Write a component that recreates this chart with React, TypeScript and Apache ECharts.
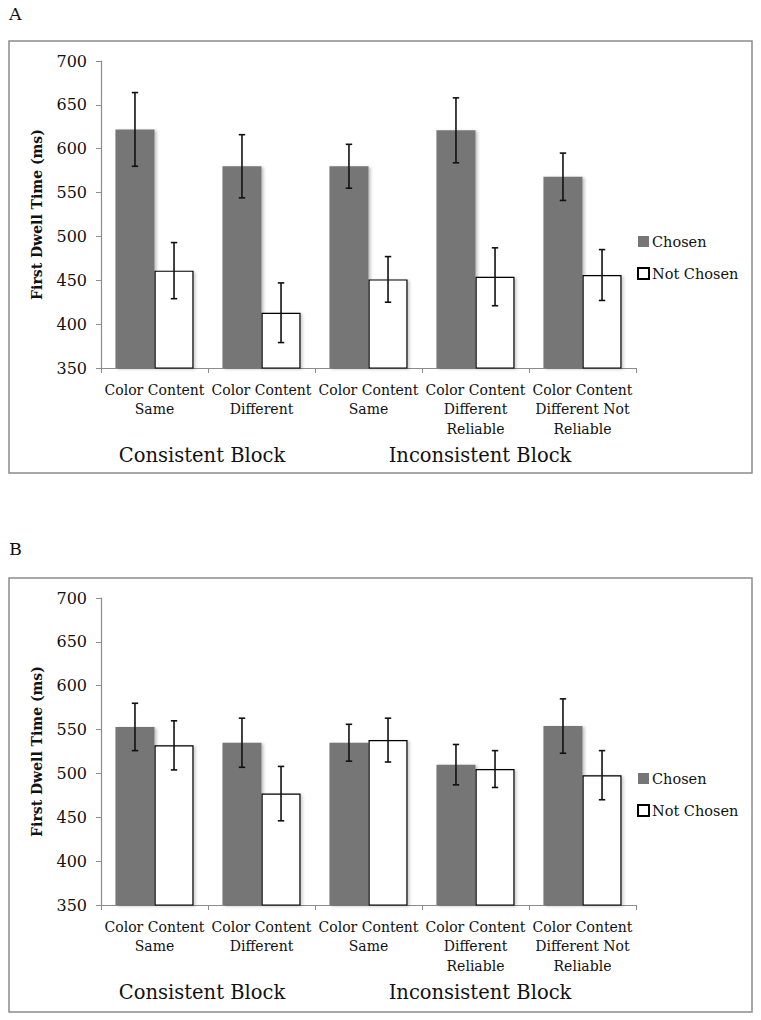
import React, { useEffect, useRef } from "react";
import * as echarts from "echarts";

const categories = [
  "Color Content\nSame",
  "Color Content\nDifferent",
  "Color Content\nSame",
  "Color Content\nDifferent\nReliable",
  "Color Content\nDifferent Not\nReliable",
];
const yTicks = { min: 350, max: 700, interval: 50 };
const seriesNames = ["Chosen", "Not Chosen"];
const groupLabels = ["Consistent Block", "Inconsistent Block"];

// Panel A
const aChosen = [622, 580, 580, 621, 568];
const aChosenErr = [42, 36, 25, 37, 27];
const aNotChosen = [461, 413, 451, 454, 456];
const aNotChosenErr = [32, 34, 26, 33, 29];

// Panel B
const bChosen = [553, 535, 535, 510, 554];
const bChosenErr = [27, 28, 21, 23, 31];
const bNotChosen = [532, 477, 538, 505, 498];
const bNotChosenErr = [28, 31, 25, 21, 28];

const FONT = "DejaVu Serif";
const GRAY = "#767676";
const AXIS = "#8c8c8c";

const BAR_GAP_CAT = 0.27;

function errSeries(gridIdx: number, vals: number[], errs: number[], side: number) {
  return {
    type: "custom",
    xAxisIndex: gridIdx,
    yAxisIndex: gridIdx,
    silent: true,
    z: 10,
    data: vals.map((v, i) => [i, v - errs[i], v + errs[i]]),
    renderItem: (params: any, api: any) => {
      const idx = api.value(0);
      const lo = api.coord([idx, api.value(1)]);
      const hi = api.coord([idx, api.value(2)]);
      const bandW = api.size([1, 0])[0];
      const barW = (bandW * (1 - BAR_GAP_CAT)) / 2;
      const x = lo[0] + side * barW / 2;
      const cap = 3.2;
      const style = { stroke: "#111", lineWidth: 1.6 };
      return {
        type: "group",
        children: [
          { type: "line", shape: { x1: x, y1: lo[1], x2: x, y2: hi[1] }, style },
          { type: "line", shape: { x1: x - cap, y1: lo[1], x2: x + cap, y2: lo[1] }, style },
          { type: "line", shape: { x1: x - cap, y1: hi[1], x2: x + cap, y2: hi[1] }, style },
        ],
      };
    },
  };
}

function barSeries(gridIdx: number, name: string, vals: number[]) {
  const chosen = name === seriesNames[0];
  return {
    type: "bar",
    name,
    xAxisIndex: gridIdx,
    yAxisIndex: gridIdx,
    data: vals,
    barGap: "0%",
    barCategoryGap: BAR_GAP_CAT * 100 + "%",
    itemStyle: chosen
      ? { color: GRAY, shadowColor: "rgba(0,0,0,0.25)", shadowBlur: 3, shadowOffsetX: 2, shadowOffsetY: 1 }
      : { color: "#ffffff", borderColor: "#000", borderWidth: 1.2, shadowColor: "rgba(0,0,0,0.2)", shadowBlur: 3, shadowOffsetX: 2, shadowOffsetY: 1 },
  };
}

const grids = [
  { left: 101, top: 61, width: 535, height: 307 },
  { left: 101, top: 598, width: 535, height: 307 },
];

export default function App() {
  const ref = useRef<HTMLDivElement>(null);
  useEffect(() => {
    if (!ref.current) return;
    const chart = echarts.init(ref.current, undefined, { renderer: "svg" });
    const xAxes = grids.map((_, i) => ({
      type: "category",
      gridIndex: i,
      data: categories,
      axisLine: { lineStyle: { color: AXIS, width: 1.2 } },
      axisTick: { show: true, length: 5, alignWithLabel: false, lineStyle: { color: AXIS } },
      axisLabel: {
        interval: 0,
        margin: 12,
        fontFamily: FONT,
        fontSize: 14,
        lineHeight: 19.5,
        color: "#111",
      },
    }));
    const yAxes = grids.map((_, i) => ({
      type: "value",
      gridIndex: i,
      min: yTicks.min,
      max: yTicks.max,
      interval: yTicks.interval,
      name: "First Dwell Time (ms)",
      nameLocation: "middle",
      nameGap: 57,
      nameTextStyle: { fontFamily: FONT, fontWeight: "bold", fontSize: 14, color: "#111" },
      axisLine: { show: true, lineStyle: { color: AXIS, width: 1.2 } },
      axisTick: { show: true, length: 5, lineStyle: { color: AXIS } },
      splitLine: { show: false },
      axisLabel: { margin: 14, fontFamily: FONT, fontSize: 16, color: "#111" },
    }));
    const legendTops = [229, 766];
    const legends = legendTops.map((t) => ({
      data: seriesNames,
      orient: "vertical",
      left: 632,
      top: t,
      itemWidth: 11,
      itemHeight: 11,
      itemGap: 17,
      icon: "rect",
      textStyle: { fontFamily: FONT, fontSize: 14.5, color: "#111", padding: [0, 0, 0, -2] },
    }));
    const frames = [
      { top: 41, bottom: 473, letter: "A", letterY: 14 },
      { top: 578, bottom: 1012, letter: "B", letterY: 549 },
    ];
    const graphic: any[] = [];
    frames.forEach((f, i) => {
      graphic.push({
        type: "rect",
        shape: { x: 9, y: f.top, width: 743, height: f.bottom - f.top },
        style: { fill: "none", stroke: AXIS, lineWidth: 1.5 },
        silent: true,
      });
      graphic.push({
        type: "text",
        x: 9,
        y: f.letterY,
        style: { text: f.letter, fontFamily: FONT, fontSize: 17.5, fill: "#111", verticalAlign: "middle" },
      });
      const gy = grids[i].top + grids[i].height + 87;
      graphic.push({
        type: "text",
        x: 202,
        y: gy,
        style: { text: groupLabels[0], fontFamily: FONT, fontSize: 19.5, fill: "#111", align: "center", verticalAlign: "middle" },
      });
      graphic.push({
        type: "text",
        x: 480,
        y: gy,
        style: { text: groupLabels[1], fontFamily: FONT, fontSize: 19.5, fill: "#111", align: "center", verticalAlign: "middle" },
      });
    });
    chart.setOption({
      animation: false,
      backgroundColor: "#fff",
      grid: grids,
      xAxis: xAxes,
      yAxis: yAxes,
      legend: legends,
      graphic,
      series: [
        barSeries(0, seriesNames[0], aChosen),
        barSeries(0, seriesNames[1], aNotChosen),
        errSeries(0, aChosen, aChosenErr, -1),
        errSeries(0, aNotChosen, aNotChosenErr, 1),
        barSeries(1, seriesNames[0], bChosen),
        barSeries(1, seriesNames[1], bNotChosen),
        errSeries(1, bChosen, bChosenErr, -1),
        errSeries(1, bNotChosen, bNotChosenErr, 1),
      ],
    });
    return () => chart.dispose();
  }, []);
  return (
    <div
      ref={ref}
      style={{ position: "absolute", left: 0, top: 0, width: 761, height: 1020 }}
    />
  );
}
